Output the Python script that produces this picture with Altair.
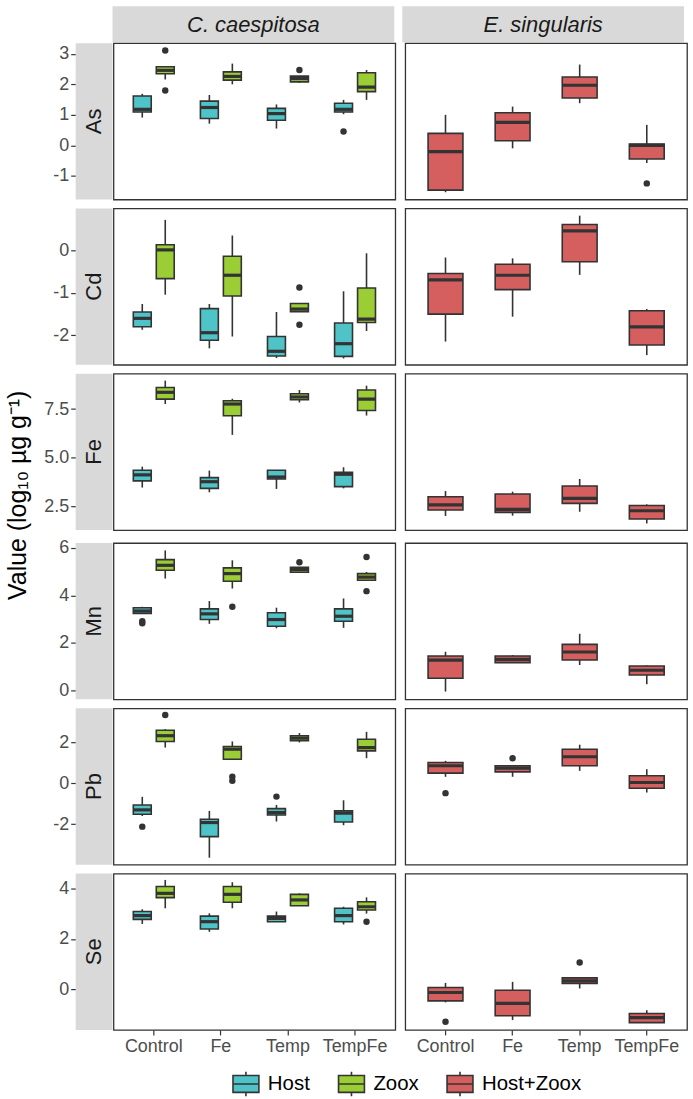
import altair as alt
import pandas as pd

FONT = "Liberation Sans"
DARK = "#333333"

ELEMENTS = ["As", "Cd", "Fe", "Mn", "Pb", "Se"]
TREATMENTS = ["Control", "Fe", "Temp", "TempFe"]
GROUPS = ["Host", "Zoox", "Host+Zoox"]
GROUP_SPECIES = {"Host": "C. caespitosa", "Zoox": "C. caespitosa", "Host+Zoox": "E. singularis"}
SPECIES = ["C. caespitosa", "E. singularis"]
COLORS = ["#4FC4C8", "#9BCD35", "#D55E5E"]

# Each element: Host (Control, Fe, Temp, TempFe), Zoox (...), Host+Zoox (...)
LOWER = [
    0.91, 0.71, 0.55, 1.02, 2.16, 2.00, 2.05, 1.49, -1.54, -0.10, 1.38, -0.58,      # As
    -1.87, -2.31, -2.54, -2.55, -1.04, -2.03, -1.44, -1.90, -2.15, -1.56, -0.57, -2.47,  # Cd
    3.48, 3.24, 3.41, 3.44, 7.76, 6.18, 7.84, 7.17, 2.02, 2.04, 2.24, 1.64,         # Fe
    3.24, 2.80, 2.61, 2.63, 4.71, 4.29, 4.98, 4.64, -0.06, 1.16, 1.06, 0.25,        # Mn
    -1.60, -3.64, -1.87, -2.05, 1.75, 1.18, 2.00, 1.23, 0.32, 0.32, 0.61, -0.45,    # Pb
    2.59, 2.28, 2.68, 2.57, 3.21, 3.21, 3.31, 3.00, -0.51, -1.21, 0.04, -1.31,      # Se
]
Q1 = [
    1.09, 0.88, 0.82, 1.09, 2.35, 2.14, 2.08, 1.76, -1.47, 0.15, 1.55, -0.45,
    -1.80, -2.12, -2.49, -2.50, -0.66, -1.07, -1.44, -1.70, -1.50, -0.92, -0.26, -2.23,
    3.82, 3.44, 3.92, 3.53, 8.01, 7.16, 7.98, 7.43, 2.33, 2.21, 2.67, 1.87,
    3.24, 2.98, 2.70, 2.91, 5.06, 4.60, 4.98, 4.64, 0.50, 1.16, 1.27, 0.64,
    -1.51, -2.61, -1.55, -1.89, 2.05, 1.18, 2.08, 1.59, 0.50, 0.56, 0.86, -0.24,
    2.77, 2.39, 2.68, 2.68, 3.63, 3.45, 3.31, 3.14, -0.45, -1.04, 0.24, -1.31,
]
MEDIAN = [
    1.18, 1.24, 1.04, 1.18, 2.46, 2.26, 2.19, 1.91, -0.21, 0.75, 1.97, 0.00,
    -1.60, -1.94, -2.38, -2.20, 0.02, -0.58, -1.38, -1.62, -0.69, -0.58, 0.47, -1.80,
    4.13, 3.78, 4.02, 4.16, 8.36, 7.76, 8.12, 8.01, 2.59, 2.36, 2.93, 2.29,
    3.34, 3.22, 2.98, 3.12, 5.27, 4.92, 5.09, 4.77, 1.27, 1.30, 1.61, 0.84,
    -1.30, -1.92, -1.43, -1.46, 2.33, 1.67, 2.21, 1.75, 0.86, 0.74, 1.30, 0.04,
    2.92, 2.68, 2.81, 2.92, 3.80, 3.76, 3.54, 3.27, -0.12, -0.55, 0.34, -1.11,
]
Q3 = [
    1.62, 1.45, 1.21, 1.38, 2.58, 2.41, 2.27, 2.38, 0.39, 1.07, 2.24, 0.04,
    -1.45, -1.37, -2.03, -1.71, 0.14, -0.13, -1.25, -0.88, -0.54, -0.32, 0.62, -1.42,
    4.37, 3.99, 4.37, 4.26, 8.61, 7.93, 8.29, 8.48, 3.01, 3.15, 3.56, 2.56,
    3.48, 3.43, 3.27, 3.43, 5.51, 5.16, 5.19, 4.92, 1.44, 1.44, 1.93, 1.02,
    -1.06, -1.76, -1.24, -1.35, 2.60, 1.80, 2.33, 2.16, 1.02, 0.86, 1.67, 0.37,
    3.08, 2.90, 2.90, 3.21, 4.07, 4.07, 3.76, 3.47, 0.08, -0.03, 0.46, -0.95,
]
UPPER = [
    1.69, 1.65, 1.34, 1.49, 2.60, 2.68, 2.27, 2.47, 1.00, 1.27, 2.65, 0.67,
    -1.26, -1.26, -1.45, -0.96, 0.73, 0.36, -1.25, -0.06, -0.16, -0.18, 0.83, -1.38,
    4.55, 4.35, 4.37, 4.52, 8.96, 8.03, 8.48, 8.70, 3.30, 3.27, 3.92, 2.62,
    3.52, 3.76, 3.48, 3.87, 5.90, 5.48, 5.19, 4.99, 1.62, 1.48, 2.38, 1.05,
    -0.66, -1.35, -1.06, -0.83, 2.65, 2.05, 2.46, 2.52, 1.10, 0.86, 1.89, 0.69,
    3.17, 3.01, 3.08, 3.27, 4.33, 4.24, 3.80, 3.64, 0.26, 0.30, 0.46, -0.82,
]

OUT_ELEMENT = ["As", "As", "As", "As", "As", "Cd", "Cd", "Mn", "Mn", "Mn", "Mn", "Mn", "Mn",
               "Pb", "Pb", "Pb", "Pb", "Pb", "Pb", "Pb", "Se", "Se", "Se"]
OUT_GROUP = ["Zoox", "Zoox", "Zoox", "Host", "Host+Zoox", "Zoox", "Zoox", "Host", "Host", "Zoox", "Zoox", "Zoox", "Zoox",
             "Host", "Zoox", "Zoox", "Zoox", "Host", "Host+Zoox", "Host+Zoox", "Zoox", "Host+Zoox", "Host+Zoox"]
OUT_TREATMENT = ["Control", "Control", "Temp", "TempFe", "TempFe", "Temp", "Temp", "Control", "Control", "Fe", "Temp", "TempFe", "TempFe",
                 "Control", "Control", "Fe", "Fe", "Temp", "Control", "Fe", "TempFe", "Control", "Temp"]
OUT_VALUE = [3.11, 1.80, 2.47, 0.45, -1.25, -0.87, -1.75, 2.91, 2.82, 3.52, 5.40, 5.62, 4.18,
             -2.12, 3.34, 0.32, 0.12, -0.65, -0.48, 1.23, 2.68, -1.28, 1.07]

Y_DOMAINS = [[-1.78, 3.35], [-2.70, 1.0], [1.30, 9.31], [-0.39, 6.21], [-3.98, 3.67], [-1.60, 4.58]]
Y_TICKS = [[-1, 0, 1, 2, 3], [-2, -1, 0], [2.5, 5.0, 7.5], [0, 2, 4, 6], [-4, -2, 0, 2], [0, 2, 4]]
Y_FORMAT = ["d", "d", ".1f", "d", "d", "d"]

Y_TITLE = "Value (log\u2081\u2080 \u00b5g g\u207b\u00b9)"

rows = []
i = 0
for el in ELEMENTS:
    for g in GROUPS:
        for t in TREATMENTS:
            rows.append(dict(element=el, group=g, species=GROUP_SPECIES[g], treatment=t,
                             lower=LOWER[i], q1=Q1[i], median=MEDIAN[i], q3=Q3[i], upper=UPPER[i]))
            i += 1
boxes = pd.DataFrame(rows)
outl = pd.DataFrame(dict(element=OUT_ELEMENT, group=OUT_GROUP, treatment=OUT_TREATMENT, value=OUT_VALUE))
outl["species"] = outl["group"].map(GROUP_SPECIES)

PW, PH = 283, 157
STRIP_W = 37
HEAD_H = 36

SYMBOL = "M-1,-0.65H1V0.65H-1Z M-1,0H1 M0,-0.65V-0.95 M0,0.65V0.95"

fill_enc = alt.Fill("group:N", scale=alt.Scale(domain=GROUPS, range=COLORS), title=None,
                    legend=alt.Legend(orient="none", legendX=157, legendY=1068, direction="horizontal"))


def panel(k, el, sp, bottom):
    dodge = sp == SPECIES[0]
    bw = 18 if dodge else 35
    xsc = alt.Scale(domain=TREATMENTS, paddingInner=0, paddingOuter=0.1)
    if bottom:
        x = alt.X("treatment:N", scale=xsc, axis=alt.Axis(labelAngle=0, labelPadding=3, ticks=True), title=None)
    else:
        x = alt.X("treatment:N", scale=xsc, axis=None)
    enc_x = {"x": x}
    if dodge:
        enc_x["xOffset"] = alt.XOffset("group:N", scale=alt.Scale(domain=GROUPS[:2], paddingInner=0.22, paddingOuter=0.57))
    ysc = alt.Scale(domain=Y_DOMAINS[k], nice=False, zero=False)
    filt = (alt.datum.element == el) & (alt.datum.species == sp)
    base = alt.Chart(boxes).transform_filter(filt)
    whisk = base.mark_rule(color=DARK, strokeWidth=1.6).encode(
        y=alt.Y("lower:Q", scale=ysc, axis=None), y2="upper:Q", **enc_x)
    box = base.mark_bar(stroke=DARK, strokeWidth=1.6, size=bw).encode(
        y=alt.Y("q1:Q", scale=ysc, axis=None), y2="q3:Q", fill=fill_enc, **enc_x)
    med = base.mark_tick(color=DARK, thickness=3.2, size=bw, opacity=1).encode(
        y=alt.Y("median:Q", scale=ysc, axis=None), **enc_x)
    pts = alt.Chart(outl).transform_filter(filt).mark_circle(color=DARK, size=42, opacity=1).encode(
        y=alt.Y("value:Q", scale=ysc, axis=None), **enc_x)
    return alt.layer(whisk, box, med, pts).properties(width=PW, height=PH)


def strip(k, el):
    ysc = alt.Scale(domain=Y_DOMAINS[k], nice=False, zero=False)
    lab = pd.DataFrame({"label": [el]})
    rect = alt.Chart(lab).mark_rect(color="#D9D9D9").encode(
        x=alt.value(0), x2=alt.value(STRIP_W), y=alt.value(0), y2=alt.value(PH))
    txt = alt.Chart(lab).mark_text(angle=270, fontSize=22, font=FONT, color="#1A1A1A",
                                   align="center", baseline="middle").encode(
        x=alt.value(STRIP_W / 2), y=alt.value(PH / 2), text="label:N")
    fmt = Y_FORMAT[k]
    ax = alt.Chart(boxes).transform_filter(alt.datum.element == el).mark_point(opacity=0).encode(
        y=alt.Y("median:Q", scale=ysc,
                axis=alt.Axis(values=Y_TICKS[k], title=None, labelPadding=2,
                              labelExpr="replace(format(datum.value, '%s'), '\u2212', '-')" % fmt)))
    return alt.layer(rect, txt, ax).properties(width=STRIP_W, height=PH,
                                               view=alt.ViewBackground(stroke=None))


def header(sp, w):
    lab = pd.DataFrame({"label": [sp]})
    rect = alt.Chart(lab).mark_rect(color="#D9D9D9", opacity=1 if sp else 0).encode(
        x=alt.value(0), x2=alt.value(w), y=alt.value(0), y2=alt.value(HEAD_H))
    txt = alt.Chart(lab).mark_text(fontSize=22, font=FONT, fontStyle="italic", color="#1A1A1A",
                                   align="center", baseline="middle").encode(
        x=alt.value(w / 2), y=alt.value(HEAD_H / 2 + 1), text="label:N")
    return alt.layer(rect, txt).properties(width=w, height=HEAD_H,
                                           view=alt.ViewBackground(stroke=None))


head_row = alt.hconcat(
    alt.hconcat(header("", STRIP_W), header(SPECIES[0], PW), spacing=0),
    header(SPECIES[1], PW), spacing=8)

row_charts = []
for k, el in enumerate(ELEMENTS):
    bottom = k == len(ELEMENTS) - 1
    r = alt.hconcat(
        alt.hconcat(strip(k, el), panel(k, el, SPECIES[0], bottom), spacing=0),
        panel(k, el, SPECIES[1], bottom), spacing=8)
    row_charts.append(r)

body = alt.vconcat(*row_charts, spacing=7)

chart = alt.vconcat(head_row, body, spacing=0).properties(
    padding={"left": 5, "top": 4, "right": 5, "bottom": 5},
    title=alt.TitleParams(Y_TITLE, orient="left", anchor="middle", fontSize=25, font=FONT,
                          fontWeight="normal", color="#000000", offset=13, dx=58)
).configure_view(
    stroke=DARK, strokeWidth=1.3
).configure_axis(
    labelFont=FONT, labelFontSize=18, labelColor="#4D4D4D", tickColor=DARK, tickSize=5,
    tickWidth=1.2, grid=False, domain=False
).configure_legend(
    labelFont=FONT, labelFontSize=20.5,
    labelColor="#000000", symbolType=SYMBOL, symbolSize=676, symbolStrokeColor=DARK,
    symbolStrokeWidth=1.6, columnPadding=24, labelOffset=8, symbolOpacity=1
).configure_concat(spacing=0)

chart.save("out.html", embed_options={"renderer": "svg", "actions": False})
